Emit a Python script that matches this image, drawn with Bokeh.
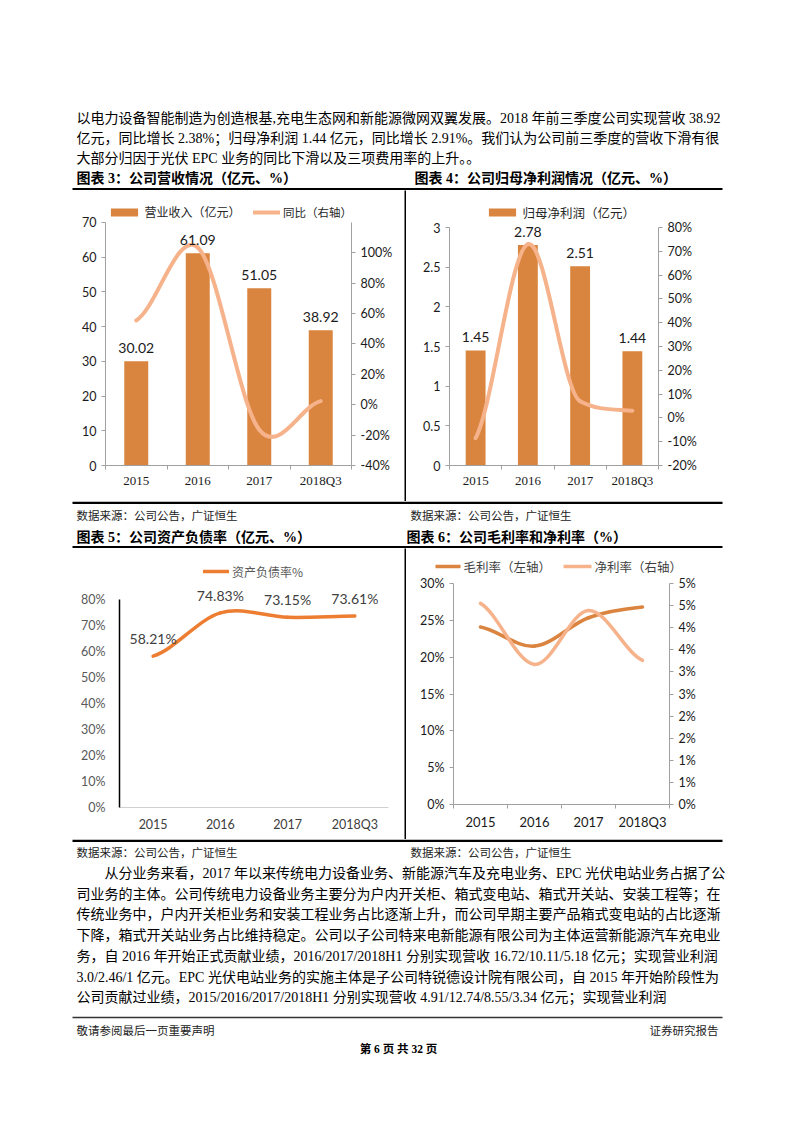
import math
from bokeh.plotting import figure
from bokeh.layouts import column, row
from bokeh.models import (Range1d, LinearAxis, FixedTicker, SingleIntervalTicker,
                          NumeralTickFormatter, CustomJSTickFormatter, LabelSet,
                          ColumnDataSource, Legend, LegendItem)
from bokeh.core.properties import value
from bokeh.embed import file_html
from bokeh.resources import INLINE

# ---- data ----
years = ["2015", "2016", "2017", "2018Q3"]
revenue = [30.02, 61.09, 51.05, 38.92]            # 亿元
revenue_yoy = [0.555, 1.035, -0.164, 0.024]
profit = [1.45, 2.78, 2.51, 1.44]                 # 亿元
profit_yoy = [-0.085, 0.73, 0.07, 0.03]
debt_ratio = [0.5821, 0.7483, 0.7315, 0.7361]
gross_margin = [0.241, 0.215, 0.2535, 0.268]
net_margin = [0.0455, 0.0317, 0.0439, 0.0326]
gross_margin_ticks = [0, 0.05, 0.1, 0.15, 0.2, 0.25, 0.3]
net_margin_ticks = [0, 0.005, 0.01, 0.015, 0.02, 0.025, 0.03, 0.035, 0.04, 0.045, 0.05]
net_margin_tick_labels = ["0%", "1%", "1%", "2%", "2%", "3%", "3%", "4%", "4%", "5%", "5%"]

top_lines = [
    "以电力设备智能制造为创造根基,充电生态网和新能源微网双翼发展。2018 年前三季度公司实现营收 38.92",
    "亿元，同比增长 2.38%；归母净利润 1.44 亿元，同比增长 2.91%。我们认为公司前三季度的营收下滑有很",
    "大部分归因于光伏 EPC 业务的同比下滑以及三项费用率的上升。。",
]
bottom_lines = [
    "从分业务来看，2017 年以来传统电力设备业务、新能源汽车及充电业务、EPC 光伏电站业务占据了公",
    "司业务的主体。公司传统电力设备业务主要分为户内开关柜、箱式变电站、箱式开关站、安装工程等；在",
    "传统业务中，户内开关柜业务和安装工程业务占比逐渐上升，而公司早期主要产品箱式变电站的占比逐渐",
    "下降，箱式开关站业务占比维持稳定。公司以子公司特来电新能源有限公司为主体运营新能源汽车充电业",
    "务，自 2016 年开始正式贡献业绩，2016/2017/2018H1 分别实现营收 16.72/10.11/5.18 亿元；实现营业利润",
    "3.0/2.46/1 亿元。EPC 光伏电站业务的实施主体是子公司特锐德设计院有限公司，自 2015 年开始阶段性为",
    "公司贡献过业绩，2015/2016/2017/2018H1 分别实现营收 4.91/12.74/8.55/3.34 亿元；实现营业利润",
]
titles = ["图表 3：公司营收情况（亿元、%）", "图表 4：公司归母净利润情况（亿元、%）",
          "图表 5：公司资产负债率（亿元、%）", "图表 6：公司毛利率和净利率（%）"]
legend_labels = ["营业收入（亿元）", "同比（右轴）", "归母净利润（亿元）", "资产负债率%",
                 "毛利率（左轴）", "净利率（右轴）"]
source_note = "数据来源：公司公告，广证恒生"

SERIF_CJK = "Liberation Serif, Noto Sans CJK SC"
CJK = "Noto Sans CJK SC"
SANS = "Lato"
BAR = "#D9853F"
PEACH = "#F6B38B"
ORANGE = "#ED7D31"
GROSS = "#DB843F"
GREY = "#A0A0A0"

n = len(years)
xs = [i + 0.5 for i in range(n)]


def smooth(ys):
    # excel-like smoothed line: cubic bezier through the points
    m = []
    for i in range(n):
        t = (ys[min(i + 1, n - 1)] - ys[max(i - 1, 0)]) / 2
        if 0 < i < n - 1:
            d0, d1 = ys[i] - ys[i - 1], ys[i + 1] - ys[i]
            if d0 * d1 > 0:
                t = math.copysign(min(abs(t), 3 * min(abs(d0), abs(d1))), t)
        m.append(t)
    return dict(x0=xs[:-1], y0=ys[:-1], x1=xs[1:], y1=ys[1:],
                cx0=[x + 1 / 3 for x in xs[:-1]], cy0=[ys[i] + m[i] / 3 for i in range(n - 1)],
                cx1=[x - 1 / 3 for x in xs[1:]], cy1=[ys[i + 1] - m[i + 1] / 3 for i in range(n - 1)])


def padded(lo, hi, extra_px, axis_px):
    # range whose top leaves extra_px of room above the axis end (legend, labels)
    return Range1d(lo, hi + (hi - lo) * extra_px / axis_px)


def style_axis(ax, bounds, font=SANS, size="12.5px", color="#1a1a1a", line=GREY):
    ax.bounds = bounds
    ax.axis_line_color = line
    ax.major_tick_line_color = line
    ax.major_tick_in = 0
    ax.major_tick_out = 4
    ax.minor_tick_line_color = None
    ax.major_label_text_font = font
    ax.major_label_text_font_size = size
    ax.major_label_text_color = color
    ax.major_label_standoff = 5


def category_axis(p, font, size, standoff, color="#1a1a1a", line=GREY, boundary_ticks=True):
    ax = p.xaxis[0]
    ax.ticker = FixedTicker(ticks=xs, minor_ticks=list(range(n + 1)))
    ax.formatter = CustomJSTickFormatter(args=dict(labels=years), code="return labels[index]")
    ax.axis_line_color = line
    ax.major_tick_line_color = None
    ax.major_tick_out = 0
    ax.minor_tick_line_color = line if boundary_ticks else None
    ax.minor_tick_in = 0
    ax.minor_tick_out = 4
    ax.major_label_text_font = font
    ax.major_label_text_font_size = size
    ax.major_label_text_color = color
    ax.major_label_standoff = standoff


def chart(width, height, left, right, top, bottom, y_range):
    p = figure(width=width, height=height, x_range=Range1d(0, n), y_range=y_range,
               output_backend="svg", toolbar_location=None,
               min_border_left=left, min_border_right=right,
               min_border_top=top, min_border_bottom=bottom)
    p.xgrid.visible = False
    p.ygrid.visible = False
    p.outline_line_color = None
    return p


def labels(p, values, texts, offset, color="#1a1a1a"):
    src = ColumnDataSource(dict(x=xs, y=values, t=texts))
    p.add_layout(LabelSet(x="x", y="y", text="t", source=src, text_align="center",
                          text_baseline="bottom", y_offset=offset, text_font=value(SANS),
                          text_font_size="14px", text_color=color))


def key(p, label, renderer, loc, glyph_width, size, color, standoff=4):
    # loc = bottom-left of the key, in pixels from the frame's bottom-left
    p.add_layout(Legend(items=[LegendItem(label=label, renderers=[renderer])], location=loc,
                        orientation="horizontal", glyph_width=glyph_width, glyph_height=10,
                        label_height=14, label_standoff=standoff, padding=0, margin=0,
                        border_line_color=None, background_fill_alpha=0,
                        label_text_font=CJK, label_text_font_size=size,
                        label_text_color=color))


# ---- chart 3: revenue ----
p3 = chart(404, 311, 105, 53, 13, 35, padded(0, 70, 19, 244))
p3.extra_y_ranges = {"yoy": padded(-0.4, 1.2, 19, 244)}
bars3 = p3.vbar(x=xs, top=revenue, width=0.39, fill_color=BAR, line_color=None)
line3 = p3.bezier(**smooth(revenue_yoy), y_range_name="yoy", line_color=PEACH,
                  line_width=4, line_cap="round")
p3.yaxis.ticker = SingleIntervalTicker(interval=10, num_minor_ticks=0)
style_axis(p3.yaxis[0], (0, 70))
r3 = LinearAxis(y_range_name="yoy", ticker=SingleIntervalTicker(interval=0.2, num_minor_ticks=0),
                formatter=NumeralTickFormatter(format="0%"))
style_axis(r3, (-0.4, 1.2))
p3.add_layout(r3, "right")
category_axis(p3, "Liberation Serif", "13px", 3)
labels(p3, revenue, [f"{v:.2f}" for v in revenue], 8)
key(p3, legend_labels[0], bars3, (1.6, 245), 34, "12px", "#262626")
key(p3, legend_labels[1], line3, (148, 245), 27, "11.5px", "#262626", standoff=3)

# ---- chart 4: net profit ----
p4 = chart(379, 311, 43, 127, 13, 36, padded(0, 3, 24, 238))
p4.extra_y_ranges = {"yoy": padded(-0.2, 0.8, 24, 238)}
bars4 = p4.vbar(x=xs, top=profit, width=0.38, fill_color=BAR, line_color=None)
p4.bezier(**smooth(profit_yoy), y_range_name="yoy", line_color=PEACH, line_width=4,
          line_cap="round")
p4.yaxis.ticker = SingleIntervalTicker(interval=0.5, num_minor_ticks=0)
p4.yaxis.formatter = NumeralTickFormatter(format="0.[0]")
style_axis(p4.yaxis[0], (0, 3))
r4 = LinearAxis(y_range_name="yoy", ticker=SingleIntervalTicker(interval=0.1, num_minor_ticks=0),
                formatter=NumeralTickFormatter(format="0%"))
style_axis(r4, (-0.2, 0.8))
p4.add_layout(r4, "right")
category_axis(p4, "Liberation Serif", "13px", 3)
labels(p4, profit, [f"{v:.2f}" for v in profit], 8)
key(p4, legend_labels[2], bars4, (35.6, 243.5), 34, "12.5px", "#262626")

# ---- chart 5: debt ratio ----
p5 = chart(404, 291, 119, 16, 13, 32, padded(0, 0.8, 38, 208))
line5 = p5.bezier(**smooth(debt_ratio), line_color=ORANGE, line_width=3.5, line_cap="round")
p5.yaxis.ticker = SingleIntervalTicker(interval=0.1, num_minor_ticks=0)
p5.yaxis.formatter = NumeralTickFormatter(format="0%")
style_axis(p5.yaxis[0], (0, 0.8), color="#595959", line="#000000")
p5.yaxis.major_tick_line_color = None
p5.yaxis.axis_line_width = 1.5
p5.yaxis.major_label_standoff = 10
category_axis(p5, SANS, "12.5px", 5, color="#404040", line="#D0D0D0", boundary_ticks=False)
labels(p5, debt_ratio, [f"{v * 100:.2f}%" for v in debt_ratio], 9, color="#404040")
key(p5, legend_labels[3], line5, (84, 227.5), 26, "12px", "#595959", standoff=3)

# ---- chart 6: margins ----
p6 = chart(379, 264, 47, 116, 8, 35, Range1d(0, 0.3))
p6.frame_align = False
p6.extra_y_ranges = {"net": Range1d(0, 0.05)}
p6.bezier(**smooth(gross_margin), line_color=GROSS, line_width=3.5, line_cap="round")
p6.bezier(**smooth(net_margin), y_range_name="net", line_color=PEACH, line_width=3.5,
          line_cap="round")
p6.yaxis.ticker = FixedTicker(ticks=gross_margin_ticks)
p6.yaxis.formatter = NumeralTickFormatter(format="0%")
style_axis(p6.yaxis[0], (0, 0.3))
r6 = LinearAxis(y_range_name="net", ticker=FixedTicker(ticks=net_margin_ticks),
                formatter=CustomJSTickFormatter(args=dict(labels=net_margin_tick_labels),
                                                code="return labels[index]"))
style_axis(r6, (0, 0.05))
p6.add_layout(r6, "right")
category_axis(p6, SANS, "13px", 5)


# ---- page bands (page coordinates, y grows downward) ----
def band(top, bottom, left=0, right=785):
    p = figure(width=right - left, height=bottom - top, x_range=Range1d(left, right),
               y_range=Range1d(bottom, top), x_axis_type=None, y_axis_type=None,
               output_backend="svg", toolbar_location=None, min_border=0)
    p.outline_line_color = None
    p.grid.visible = False
    p.frame_align = False
    return p


def put(p, x, y, texts, size="14px", bold=False, align="left", font=SERIF_CJK, color="#000000"):
    p.text(x=x, y=y, text=texts, text_font=value(font), text_font_size=size,
           text_font_style="bold" if bold else "normal", text_align=align,
           text_baseline="middle", text_color=color)


def rule(p, y, width=2.5, color="#000000", x0=72, x1=722):
    p.segment(x0=[x0], y0=[y], x1=[x1], y1=[y], line_width=width, line_color=color)


def key_line(p, x, y, label, color, size, text_color, length):
    p.segment(x0=[x], y0=[y], x1=[x + length], y1=[y], line_color=color, line_width=3.5)
    put(p, [x + length + 3], [y], [label], size=size, font=CJK, color=text_color)


def separator(h):
    s = figure(width=2, height=h, x_axis_type=None, y_axis_type=None,
               output_backend="svg", toolbar_location=None, min_border=0,
               background_fill_color="#000000", border_fill_color="#000000")
    s.outline_line_color = None
    s.grid.visible = False
    s.frame_align = False
    return s


pa = band(0, 190)
put(pa, [76] * 3, [118, 138, 158], top_lines)
put(pa, [76, 414], [178, 178], titles[:2], bold=True)
rule(pa, 188.8)

pc = band(501, 548)
rule(pc, 502.3)
put(pc, [76, 410], [515, 515], [source_note] * 2, size="11.5px", color="#222222")
put(pc, [76, 406], [537, 537], titles[2:], bold=True)
rule(pc, 546.8)

p6_key = band(548, 575, left=406)
key_line(p6_key, 435, 566, legend_labels[4], GROSS, "12.5px", "#404040", 25)
key_line(p6_key, 563, 566, legend_labels[5], PEACH, "12.5px", "#404040", 28)

pe = band(839, 1109)
rule(pe, 840.3)
put(pe, [76, 410], [852, 852], [source_note] * 2, size="11.5px", color="#222222")
put(pe, [104] + [76] * 6, [873 + 20.7 * k for k in range(7)], bottom_lines)
rule(pe, 1017, width=1.5, color="#333333")
put(pe, [76], [1030], ["敬请参阅最后一页重要声明"], size="11.5px", color="#222222")
put(pe, [718], [1030], ["证券研究报告"], size="11.5px", align="right", color="#222222")
put(pe, [398], [1048], ["第 6 页 共 32 页"], size="11.5px", align="center", bold=True)

page = column(pa,
              row(p3, separator(311), p4),
              pc,
              row(p5, separator(291), column(p6_key, p6)),
              pe)

open("out.html", "w").write(file_html(page, INLINE))
